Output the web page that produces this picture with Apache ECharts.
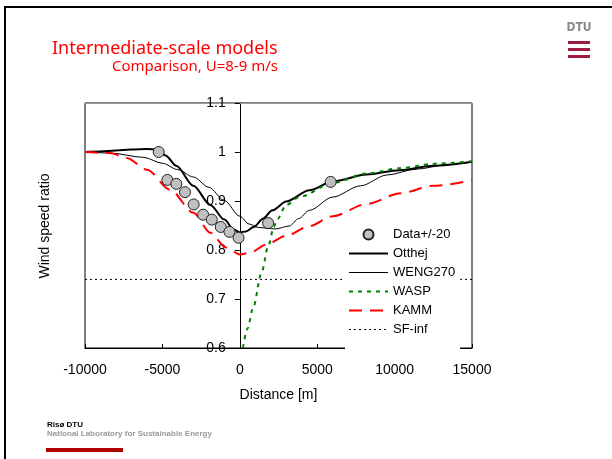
<!DOCTYPE html>
<html>
<head>
<meta charset="utf-8">
<script src="https://cdn.jsdelivr.net/npm/echarts@6/dist/echarts.min.js"></script>
<style>
  html, body { margin: 0; padding: 0; background: #fff; }
  #chart { width: 612px; height: 459px; }
</style>
</head>
<body>
<div id="chart"></div>
<script>
// 测量点 (distance m, ratio)
var dataPts = [[-5240, 1.0], [-4680, 0.943], [-4100, 0.935], [-3540, 0.918], [-2980, 0.893],
    [-2370, 0.872], [-1810, 0.862], [-1230, 0.847], [-670, 0.837], [-80, 0.825],
    [1830, 0.855], [5870, 0.939]];

var otthej = [[-10000, 1.0], [-9000, 1.001], [-8000, 1.003], [-7000, 1.005], [-6000, 1.006],
    [-5300, 1.005], [-4800, 0.993], [-4100, 0.972], [-3000, 0.931], [-1900, 0.892],
    [-1000, 0.862], [-400, 0.842], [0, 0.836], [400, 0.838], [900, 0.847], [1500, 0.864],
    [2100, 0.881], [3000, 0.899], [4500, 0.922], [6000, 0.94], [8200, 0.954],
    [10300, 0.963], [12500, 0.972], [15000, 0.98]];

var weng270 = [[-10000, 1.0], [-8400, 0.998], [-6200, 0.989], [-5000, 0.977], [-4000, 0.964],
    [-3000, 0.949], [-2000, 0.928], [-1000, 0.901], [0, 0.869], [600, 0.853], [1200, 0.846],
    [2300, 0.843], [3200, 0.849], [3800, 0.864], [4500, 0.881], [6000, 0.908], [7800, 0.931],
    [9500, 0.953], [11400, 0.965], [13400, 0.974], [15000, 0.98]];

var wasp = [[200, 0.6], [500, 0.64], [860, 0.682], [1400, 0.753], [1830, 0.807], [2200, 0.847],
    [2400, 0.862], [3000, 0.892], [3900, 0.909], [6000, 0.937], [8200, 0.956], [10400, 0.967],
    [12500, 0.976], [15000, 0.981]];

var kamm = [[-10000, 1.0], [-8400, 0.998], [-7300, 0.988], [-6000, 0.964], [-4500, 0.923],
    [-3000, 0.876], [-1900, 0.835], [-900, 0.805], [0, 0.791], [700, 0.795], [1700, 0.811],
    [3000, 0.829], [4500, 0.849], [6000, 0.869], [8200, 0.894], [10400, 0.916], [12500, 0.931],
    [15000, 0.942]];

var sfInf = [[-10000, 0.74], [15000, 0.74]];

var legendNames = ['Data+/-20', 'Otthej', 'WENG270', 'WASP', 'KAMM', 'SF-inf'];
var legendWidths = [0, 2, 1, 2, 2, 1];

var myChart = echarts.init(document.getElementById('chart'), null, { renderer: 'canvas' });

var FONT = "'Liberation Sans', Arial, sans-serif";
var TFONT = "'Noto Sans', 'DejaVu Sans', sans-serif";

// 绘图区
var gridLeft = 85, gridRight = 140;
var gridW = 612 - gridLeft - gridRight;
// y 轴放在 x=0 处
var yOffset = -gridW * 10000 / 25000;

// 折线的图例不显示圆点
var legendData = legendNames.map(function (n, i) {
    if (i === 0) return { name: n };
    return { name: n, itemStyle: { opacity: 0 }, lineStyle: { width: legendWidths[i] } };
});

var option = {
    backgroundColor: '#fff',
    animation: false,
    textStyle: { fontFamily: FONT, color: '#000' },
    grid: {
        left: gridLeft, right: gridRight, top: 103, bottom: 111,
        show: true, borderColor: '#000', borderWidth: 1
    },
    legend: {
        data: legendData,
        orient: 'vertical',
        left: 345,
        top: 224,
        padding: [4, 5, 17, 3],
        backgroundColor: '#fff',
        itemWidth: 39,
        itemHeight: 10,
        itemGap: 6,
        textStyle: { fontSize: 13, fontFamily: FONT, color: '#000', lineHeight: 13 }
    },
    xAxis: [{
        type: 'value',
        min: -10000, max: 15000, interval: 5000,
        axisLine: { lineStyle: { color: '#000', width: 1 } },
        axisTick: { inside: true, length: 4, lineStyle: { color: '#000' } },
        axisLabel: {
            fontSize: 14, color: '#000', margin: 15,
            formatter: function (v) { return String(v); }
        },
        splitLine: { show: false },
        name: 'Distance [m]',
        nameLocation: 'middle',
        nameGap: 40,
        nameTextStyle: { fontSize: 14, color: '#000' }
    }, {
        // 顶部灰色边框
        type: 'value', position: 'top',
        min: -10000, max: 15000,
        axisLine: { lineStyle: { color: '#999', width: 1 } },
        axisTick: { show: false }, axisLabel: { show: false }, splitLine: { show: false }
    }],
    yAxis: {
        type: 'value',
        position: 'left',
        offset: yOffset,
        min: 0.6, max: 1.1, interval: 0.1,
        axisLine: { onZero: false, lineStyle: { color: '#000', width: 1 } },
        axisTick: { length: 5, lineStyle: { color: '#000' } },
        axisLabel: { fontSize: 14, color: '#000', margin: 14 },
        splitLine: { show: false }
    },
    graphic: [
        // 页面边框
        { type: 'line', shape: { x1: 5, y1: 7, x2: 612, y2: 7 }, style: { stroke: '#000', lineWidth: 2 } },
        { type: 'line', shape: { x1: 5, y1: 6, x2: 5, y2: 459 }, style: { stroke: '#000', lineWidth: 2 } },
        // 标题
        { type: 'text', left: 52, top: 40, style: { text: 'Intermediate-scale models', fill: '#ff0000',
            font: '18px ' + TFONT } },
        { type: 'text', right: 612 - 278, top: 59, style: { text: 'Comparison, U=8-9 m/s', fill: '#ff0000',
            font: '15px ' + TFONT } },
        // y 轴名称
        { type: 'text', x: 45, y: 226, rotation: Math.PI / 2,
            style: { text: 'Wind speed ratio', fill: '#000', font: '14px ' + FONT,
                textAlign: 'center', textVerticalAlign: 'middle' } },
        // DTU logo
        { type: 'text', x: 579, y: 28, style: { text: 'DTU', fill: '#8a8a8a',
            font: "bold 12px 'DejaVu Sans Condensed', 'DejaVu Sans', sans-serif",
            textAlign: 'center', textVerticalAlign: 'middle' } },
        { type: 'rect', shape: { x: 568, y: 41, width: 22, height: 3 }, style: { fill: '#9c1c3e' } },
        { type: 'rect', shape: { x: 568, y: 48, width: 22, height: 3 }, style: { fill: '#9c1c3e' } },
        { type: 'rect', shape: { x: 568, y: 55, width: 22, height: 3 }, style: { fill: '#9c1c3e' } },
        // 底部 logo
        { type: 'text', x: 47, y: 421, style: { text: 'Risø DTU', fill: '#000',
            font: 'bold 8px ' + FONT } },
        { type: 'text', x: 47, y: 430, style: { text: 'National Laboratory for Sustainable Energy', fill: '#9a9a9a',
            font: 'bold 8px ' + FONT } },
        { type: 'rect', shape: { x: 46, y: 448, width: 77, height: 4 }, style: { fill: '#b00000' } }
    ],
    series: [{
        name: 'Data+/-20',
        type: 'scatter',
        data: dataPts,
        symbol: 'circle',
        symbolSize: 11,
        itemStyle: { color: '#c0c0c0', borderColor: '#222', borderWidth: 1, opacity: 1 },
        z: 5
    }, {
        name: 'Otthej',
        type: 'line',
        data: otthej,
        symbol: 'none',
        smooth: 0.3, smoothMonotone: 'x',
        lineStyle: { color: '#000', width: 2 },
        itemStyle: { color: '#000' },
        z: 3
    }, {
        name: 'WENG270',
        type: 'line',
        data: weng270,
        symbol: 'none',
        smooth: 0.3, smoothMonotone: 'x',
        lineStyle: { color: '#000', width: 1 },
        itemStyle: { color: '#000' }
    }, {
        name: 'WASP',
        type: 'line',
        data: wasp,
        symbol: 'none',
        smooth: 0.3, smoothMonotone: 'x',
        lineStyle: { color: '#008000', width: 2, type: [4, 5] },
        itemStyle: { color: '#008000' }
    }, {
        name: 'KAMM',
        type: 'line',
        data: kamm,
        symbol: 'none',
        smooth: 0.3, smoothMonotone: 'x',
        lineStyle: { color: '#ff0000', width: 2, type: [13, 8] },
        itemStyle: { color: '#ff0000' }
    }, {
        name: 'SF-inf',
        type: 'line',
        data: sfInf,
        symbol: 'none',
        lineStyle: { color: '#000', width: 1, type: [2, 3] },
        itemStyle: { color: '#000' }
    }]
};

myChart.setOption(option);
window.onresize = myChart.resize;
</script>
</body>
</html>
